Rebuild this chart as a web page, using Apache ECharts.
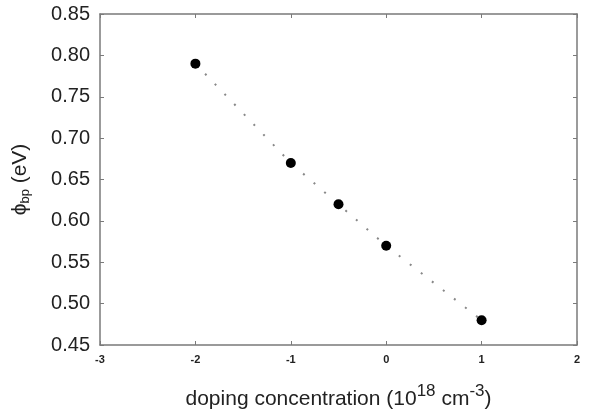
<!DOCTYPE html>
<html>
<head>
<meta charset="utf-8">
<script src="https://cdn.jsdelivr.net/npm/echarts@6/dist/echarts.min.js"></script>
<style>
  html, body { margin: 0; padding: 0; background: #fff; }
  #chart { width: 598px; height: 413px; }
</style>
</head>
<body>
<div id="chart"></div>
<script>
// doping concentration (10^18 cm^-3) vs phi_bp (eV)
const doping = [-2, -1, -0.5, 0, 1]
const phiBp = [0.79, 0.67, 0.62, 0.57, 0.48]

const points = doping.map((x, i) => [x, phiBp[i]])

const frameColor = '#7a7a7a'
const font = 'Liberation Sans, Arial, sans-serif'

const chart = echarts.init(document.getElementById('chart'))

const tickStyle = { show: true, inside: true, length: 4, lineStyle: { color: frameColor } }
const lineStyle = { show: true, onZero: false, lineStyle: { color: frameColor, width: 1.5 } }

chart.setOption({
  animation: false,
  grid: { left: 100, right: 21, top: 14, bottom: 68, outerBoundsMode: 'none', containLabel: false },
  xAxis: [
    {
      type: 'value',
      min: -3,
      max: 2,
      interval: 1,
      axisLine: lineStyle,
      axisTick: tickStyle,
      splitLine: { show: false },
      axisLabel: { color: '#222', fontSize: 11, fontWeight: 'bold', fontFamily: font, margin: 9 },
      name: '{t|doping concentration (10}{sup|18}{t| cm}{sup|-3}{t|)}',
      nameLocation: 'middle',
      nameGap: 38,
      nameTextStyle: {
        rich: {
          t: { fontSize: 21, color: '#222', fontFamily: font, verticalAlign: 'bottom' },
          sup: { fontSize: 17, color: '#222', fontFamily: font, verticalAlign: 'top', padding: [0, 0, 10, 0] },
        },
      },
    },
    {
      type: 'value',
      position: 'top',
      min: -3,
      max: 2,
      interval: 1,
      axisLine: lineStyle,
      axisTick: tickStyle,
      axisLabel: { show: false },
      splitLine: { show: false },
    },
  ],
  yAxis: [
    {
      type: 'value',
      min: 0.45,
      max: 0.85,
      interval: 0.05,
      axisLine: lineStyle,
      axisTick: tickStyle,
      splitLine: { show: false },
      axisLabel: {
        color: '#222',
        fontSize: 20,
        fontFamily: font,
        margin: 10,
        formatter: (v) => v.toFixed(2),
      },
      name: '{t|\u03d5}{sub|bp}{t| (eV)}',
      nameLocation: 'middle',
      nameGap: 68,
      nameRotate: 90,
      nameTextStyle: {
        rich: {
          t: { fontSize: 21, color: '#222', fontFamily: font },
          sub: { fontSize: 13, color: '#222', fontFamily: font, verticalAlign: 'bottom', padding: [10, 0, 0, 0] },
        },
      },
    },
    {
      type: 'value',
      position: 'right',
      min: 0.45,
      max: 0.85,
      interval: 0.05,
      axisLine: lineStyle,
      axisTick: tickStyle,
      axisLabel: { show: false },
      splitLine: { show: false },
    },
  ],
  series: [
    {
      type: 'line',
      data: points,
      symbol: 'circle',
      symbolSize: 10,
      itemStyle: { color: '#000' },
      lineStyle: { color: '#888', width: 2, type: [2, 12] },
    },
  ],
})
</script>
</body>
</html>
